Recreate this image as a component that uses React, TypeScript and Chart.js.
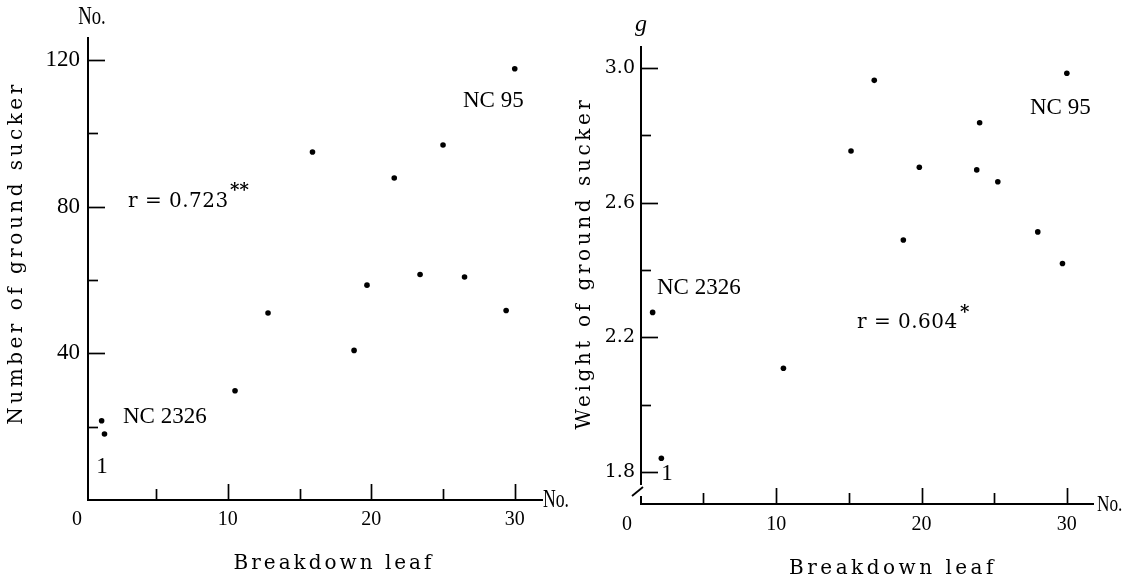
import React, { useEffect, useRef } from 'react';
import { Chart, registerables } from 'chart.js';

Chart.register(...registerables);

// ---------- Data ----------
// Left panel: Breakdown leaf (No.) vs Number of ground sucker (No.)
const LEFT_LEAF = [1.2, 1.4, 10.5, 12.8, 15.9, 18.8, 19.7, 21.6, 23.4, 25.0, 26.5, 29.4, 30.0];
const LEFT_NUMBER = [21.6, 18.0, 29.8, 51.0, 94.9, 40.8, 58.6, 87.8, 61.5, 96.8, 60.8, 51.7, 117.6];

// Right panel: Breakdown leaf (No.) vs Weight of ground sucker (g)
const RIGHT_LEAF = [1.5, 2.1, 10.5, 15.15, 16.75, 18.75, 19.85, 23.8, 24.0, 25.25, 28.0, 29.7, 30.0];
const RIGHT_WEIGHT = [2.274, 1.841, 2.108, 2.753, 2.963, 2.489, 2.705, 2.697, 2.837, 2.662, 2.513, 2.419, 2.984];

// Tick values
const X_TICKS = [5, 10, 15, 20, 25, 30];
const X_LABELED = [10, 20, 30];
const LEFT_Y_TICKS = [20, 40, 60, 80, 100, 120];
const LEFT_Y_LABELED = [40, 80, 120];
const RIGHT_Y_TICKS = [1.8, 2.0, 2.2, 2.4, 2.6, 2.8, 3.0];
const RIGHT_Y_LABELED = [1.8, 2.2, 2.6, 3.0];

// Texts
const X_TITLE = 'Breakdown leaf';
const LEFT_Y_TITLE = 'Number of ground sucker';
const RIGHT_Y_TITLE = 'Weight of ground sucker';
const LEFT_R = 'r = 0.723';
const LEFT_R_SIG = '**';
const RIGHT_R = 'r = 0.604';
const RIGHT_R_SIG = '*';
const LABEL_LOW = 'NC 2326';
const LABEL_HIGH = 'NC 95';
const LABEL_ONE = '1';
const UNIT_NO = 'No.';
const UNIT_G = 'g';
const ORIGIN = '0';

type TextItem = {
  text: string;
  x: number;
  y: number;
  font: string;
  align?: CanvasTextAlign;
  spacing?: string;
  rotate?: boolean;
  sx?: number;
};

type PanelCfg = {
  width: number;
  height: number;
  left: number;
  xs: number[];
  ys: number[];
  xMin: number;
  xMax: number;
  yMin: number;
  yMax: number;
  yTicks: number[];
  yLabeled: number[];
  yDecimals: number;
  yFont: { family: string; size: number };
  yPad: number;
  xPad: number;
  padding: { left: number; top: number; right: number; bottom: number };
  yWidth: number;
  xHeight: number;
  texts: TextItem[];
  axisBreak: boolean;
};

const SERIF = '"Liberation Serif", "Times New Roman", serif';
const DSERIF = '"DejaVu Serif", serif';

function makeDecor(cfg: PanelCfg) {
  return {
    id: 'decor',
    afterDraw(chart: any) {
      const ctx: CanvasRenderingContext2D = chart.ctx;
      const xs = chart.scales.x;
      const ys = chart.scales.y;
      const area = chart.chartArea;
      ctx.save();
      ctx.strokeStyle = '#000';
      ctx.fillStyle = '#000';
      ctx.lineWidth = 1.7;
      X_TICKS.forEach((v) => {
        const px = Math.round(xs.getPixelForValue(v)) + 0.5;
        const len = X_LABELED.includes(v) ? 16 : 11;
        ctx.beginPath();
        ctx.moveTo(px, area.bottom);
        ctx.lineTo(px, area.bottom - len);
        ctx.stroke();
      });
      cfg.yTicks.forEach((v) => {
        const py = Math.round(ys.getPixelForValue(v)) + 0.5;
        const len = cfg.yLabeled.includes(v) ? 17 : 10;
        ctx.beginPath();
        ctx.moveTo(area.left, py);
        ctx.lineTo(area.left + len, py);
        ctx.stroke();
      });
      if (cfg.axisBreak) {
        ctx.fillStyle = '#fff';
        ctx.fillRect(area.left - 3, area.bottom - 19, 6, 11);
        ctx.fillStyle = '#000';
        ctx.lineWidth = 1.8;
        ctx.beginPath();
        ctx.moveTo(area.left - 9, area.bottom - 8);
        ctx.lineTo(area.left + 2, area.bottom - 17);
        ctx.stroke();
      }
      ctx.textBaseline = 'middle';
      cfg.texts.forEach((t) => {
        ctx.font = t.font;
        (ctx as any).letterSpacing = t.spacing || '0px';
        ctx.textAlign = t.align || 'left';
        ctx.save();
        ctx.translate(t.x, t.y);
        if (t.rotate) ctx.rotate(-Math.PI / 2);
        if (t.sx) ctx.scale(t.sx, 1);
        ctx.fillText(t.text, 0, 0);
        ctx.restore();
      });
      (ctx as any).letterSpacing = '0px';
      ctx.restore();
    },
  };
}

function Panel({ cfg }: { cfg: PanelCfg }) {
  const ref = useRef<HTMLCanvasElement | null>(null);
  useEffect(() => {
    if (!ref.current) return;
    const data = cfg.xs.map((x, i) => ({ x, y: cfg.ys[i] }));
    const chart = new Chart(ref.current, {
      type: 'scatter',
      data: {
        datasets: [
          {
            data,
            pointRadius: 2.8,
            pointHoverRadius: 2.8,
            pointBackgroundColor: '#000',
            pointBorderWidth: 0,
            borderColor: '#000',
            clip: false as any,
          },
        ],
      },
      plugins: [makeDecor(cfg)],
      options: {
        animation: false,
        responsive: false,
        devicePixelRatio: 1,
        layout: { padding: cfg.padding },
        plugins: { legend: { display: false }, tooltip: { enabled: false } },
        scales: {
          x: {
            type: 'linear',
            min: cfg.xMin,
            max: cfg.xMax,
            grid: { display: false, drawTicks: false },
            border: { display: true, color: '#000', width: 2 },
            afterBuildTicks: (s: any) => {
              s.ticks = X_TICKS.map((v) => ({ value: v }));
            },
            afterFit: (s: any) => {
              s.height = cfg.xHeight;
            },
            ticks: {
              autoSkip: false,
              maxRotation: 0,
              padding: cfg.xPad,
              color: '#000',
              font: { family: SERIF, size: 20 },
              callback: (v: any) => (X_LABELED.includes(Number(v)) ? String(v) : ''),
            },
          },
          y: {
            type: 'linear',
            min: cfg.yMin,
            max: cfg.yMax,
            grid: { display: false, drawTicks: false },
            border: { display: true, color: '#000', width: 2 },
            afterBuildTicks: (s: any) => {
              s.ticks = cfg.yTicks.map((v) => ({ value: v }));
            },
            afterFit: (s: any) => {
              s.width = cfg.yWidth;
            },
            ticks: {
              autoSkip: false,
              padding: cfg.yPad,
              color: '#000',
              font: cfg.yFont,
              callback: (v: any) =>
                cfg.yLabeled.some((l) => Math.abs(l - Number(v)) < 1e-9)
                  ? Number(v).toFixed(cfg.yDecimals)
                  : '',
            },
          },
        },
      } as any,
    });
    return () => chart.destroy();
  }, [cfg]);
  return (
    <canvas
      ref={ref}
      width={cfg.width}
      height={cfg.height}
      style={{ position: 'absolute', left: cfg.left, top: 0, width: cfg.width, height: cfg.height }}
    />
  );
}

const LEFT_CFG: PanelCfg = {
  width: 580,
  height: 587,
  left: 0,
  xs: LEFT_LEAF,
  ys: LEFT_NUMBER,
  xMin: 0.25,
  xMax: 31.9,
  yMin: 0,
  yMax: 126,
  yTicks: LEFT_Y_TICKS,
  yLabeled: LEFT_Y_LABELED,
  yDecimals: 0,
  yFont: { family: SERIF, size: 23 },
  yPad: 8,
  xPad: 8,
  padding: { left: 0, top: 38, right: 38, bottom: 0 },
  yWidth: 88,
  xHeight: 87,
  axisBreak: false,
  texts: [
    { text: UNIT_NO, x: 92, y: 17, font: `26px ${SERIF}`, align: 'center', sx: 0.72 },
    { text: LEFT_R, x: 128, y: 202, font: `20px ${DSERIF}`, spacing: '0.5px' },
    { text: LEFT_R_SIG, x: 230, y: 191, font: `bold 18px ${DSERIF}` },
    { text: LABEL_LOW, x: 123, y: 417, font: `23px ${SERIF}` },
    { text: LABEL_ONE, x: 102, y: 467, font: `23px ${SERIF}`, align: 'center' },
    { text: LABEL_HIGH, x: 463, y: 101, font: `23px ${SERIF}` },
    { text: UNIT_NO, x: 543, y: 500, font: `26px ${SERIF}`, sx: 0.68 },
    { text: ORIGIN, x: 77, y: 520, font: `20px ${SERIF}`, align: 'center' },
    { text: X_TITLE, x: 334, y: 564, font: `20px ${DSERIF}`, align: 'center', spacing: '3px' },
    { text: LEFT_Y_TITLE, x: 17, y: 253, font: `20px ${DSERIF}`, align: 'center', spacing: '3.5px', rotate: true },
  ],
};

const RIGHT_CFG: PanelCfg = {
  width: 569,
  height: 587,
  left: 568,
  xs: RIGHT_LEAF,
  ys: RIGHT_WEIGHT,
  xMin: 0.7,
  xMax: 31.8,
  yMin: 1.705,
  yMax: 3.062,
  yTicks: RIGHT_Y_TICKS,
  yLabeled: RIGHT_Y_LABELED,
  yDecimals: 1,
  yFont: { family: DSERIF, size: 19 },
  yPad: 6,
  xPad: 9,
  padding: { left: 0, top: 47, right: 44, bottom: 0 },
  yWidth: 73,
  xHeight: 83,
  axisBreak: true,
  texts: [
    { text: UNIT_G, x: 73, y: 25, font: `italic 24px ${SERIF}`, align: 'center' },
    { text: LABEL_LOW, x: 89, y: 288, font: `23px ${SERIF}` },
    { text: RIGHT_R, x: 289, y: 323, font: `20px ${DSERIF}`, spacing: '0.5px' },
    { text: RIGHT_R_SIG, x: 392, y: 313, font: `bold 18px ${DSERIF}` },
    { text: LABEL_HIGH, x: 462, y: 108, font: `23px ${SERIF}` },
    { text: LABEL_ONE, x: 99, y: 474, font: `23px ${SERIF}`, align: 'center' },
    { text: UNIT_NO, x: 529, y: 505, font: `24px ${SERIF}`, sx: 0.72 },
    { text: ORIGIN, x: 59, y: 525, font: `20px ${SERIF}`, align: 'center' },
    { text: X_TITLE, x: 325, y: 569, font: `20px ${DSERIF}`, align: 'center', spacing: '3.5px' },
    { text: RIGHT_Y_TITLE, x: 17, y: 263, font: `20px ${DSERIF}`, align: 'center', spacing: '3.6px', rotate: true },
  ],
};

export default function App() {
  return (
    <div
      style={{
        position: 'absolute',
        left: 0,
        top: 0,
        width: 1137,
        height: 587,
        background: '#fff',
        overflow: 'hidden',
      }}
    >
      <Panel cfg={LEFT_CFG} />
      <Panel cfg={RIGHT_CFG} />
    </div>
  );
}
